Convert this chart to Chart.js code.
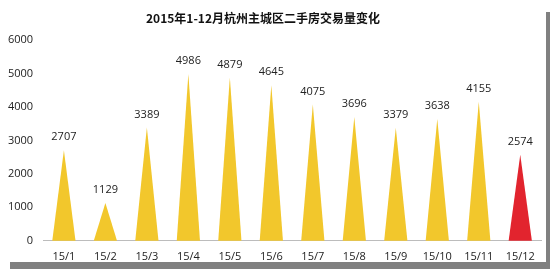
<!DOCTYPE html>
<html>
<head>
<meta charset="utf-8">
<script src="https://cdn.jsdelivr.net/npm/chart.js@4/dist/chart.umd.min.js"></script>
<style>
  html, body { margin: 0; padding: 0; background: #fff; }
  #wrap { position: relative; width: 550px; height: 269px; overflow: hidden; background: #fff; }
  #box { position: absolute; left: 0; top: 0; width: 546px; height: 272px; }
  .shade { position: absolute; background: #808080; }
  #title { position: absolute; left: 0; top: 9px; width: 526px; text-align: center;
    font: bold 12px "Noto Sans CJK SC", sans-serif; color: #111; }
</style>
</head>
<body>
<div id="wrap">
  <div id="box">
    <canvas id="myChart" width="546" height="272"></canvas>
  </div>
  <div class="shade" style="left:546px; top:12px; width:4px; height:257px"></div>
  <div class="shade" style="left:10px; top:262px; width:540px; height:7px"></div>
  <div id="title">2015年1-12月杭州主城区二手房交易量变化</div>
</div>
<script>
const months = ['15/1','15/2','15/3','15/4','15/5','15/6','15/7','15/8','15/9','15/10','15/11','15/12'];
const deals = [2707, 1129, 3389, 4986, 4879, 4645, 4075, 3696, 3379, 3638, 4155, 2574];
const yTicks = [0, 1000, 2000, 3000, 4000, 5000, 6000];

const yellow = 'rgb(242, 199, 44)';
const red = 'rgb(226, 36, 46)';
const colors = months.map((m, i) => i == months.length - 1 ? red : yellow);

// draw each bar as a spike (triangle) using the bar element geometry
const spikes = {
  id: 'spikes',
  beforeDatasetsDraw(chart) {
    const ctx = chart.ctx;
    const meta = chart.getDatasetMeta(0);
    ctx.save();
    meta.data.forEach((bar, i) => {
      const half = bar.width / 2;
      ctx.fillStyle = colors[i];
      ctx.beginPath();
      ctx.moveTo(bar.x - half, bar.base);
      ctx.lineTo(bar.x, bar.y);
      ctx.lineTo(bar.x + half, bar.base);
      ctx.closePath();
      ctx.fill();
    });
    // value labels above the spikes
    ctx.font = '11px "Open Sans"';
    ctx.fillStyle = '#222';
    ctx.textAlign = 'center';
    ctx.textBaseline = 'middle';
    meta.data.forEach((bar, i) => {
      ctx.fillText(deals[i], bar.x, bar.y - 13);
    });
    ctx.restore();
    return false;
  }
};

const ctx = document.getElementById('myChart').getContext('2d');
const myChart = new Chart(ctx, {
  type: 'bar',
  data: {
    labels: months,
    datasets: [{
      label: '交易量',
      data: deals,
      backgroundColor: colors,
      barPercentage: 0.56,
      categoryPercentage: 1
    }]
  },
  options: {
    responsive: false,
    animation: false,
    layout: { padding: { top: 40, right: 5, left: -2, bottom: 0 } },
    plugins: {
      legend: { display: false },
      tooltip: { enabled: false }
    },
    scales: {
      x: {
        grid: { display: false, drawTicks: false },
        border: { color: '#bcbcbc', width: 1 },
        ticks: { color: '#222', font: { family: 'Open Sans', size: 11 }, padding: 9 }
      },
      y: {
        min: 0,
        max: 6000,
        afterBuildTicks(axis) { axis.ticks = yTicks.map(v => ({ value: v })); },
        grid: { display: false, drawTicks: false },
        border: { display: false },
        ticks: { color: '#222', font: { family: 'Open Sans', size: 11 }, padding: 10,
          callback: v => String(v) }
      }
    }
  },
  plugins: [spikes]
});
</script>
</body>
</html>
